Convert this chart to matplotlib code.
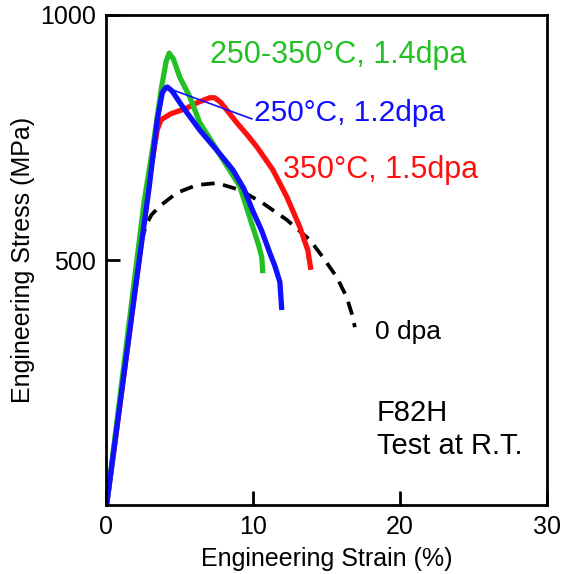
import numpy as np
import matplotlib
matplotlib.use('Agg')
import matplotlib.pyplot as plt

plt.rcParams['font.family'] = ['Liberation Sans', 'DejaVu Sans']

# engineering stress-strain curves (strain %, stress MPa)
green_x = [0.05, 2.61, 3.29, 3.76, 4.1, 4.31, 4.6, 5.03, 5.71, 6.39, 7.07, 7.96, 9.12, 10.0, 10.4, 10.61, 10.68]
green_y = [0, 620, 748, 847, 905, 922, 910, 873, 833, 780, 748, 705, 650, 567, 530, 505, 473]

blue_x = [0.05, 1.9, 2.95, 3.5, 3.84, 4.05, 4.18, 4.5, 5.24, 6.39, 7.55, 8.64, 9.4, 10.0, 10.6, 11.16, 11.5, 11.84, 11.97]
blue_y = [0, 418, 649, 786, 841, 851, 853, 845, 812, 765, 724, 684, 645, 600, 560, 514, 488, 455, 398]

red_x = [0.05, 1.9, 3.05, 3.5, 3.75, 4.4, 5.51, 6.3, 7.07, 7.41, 7.8, 8.23, 8.91, 9.6, 10.27, 11.36, 12.31, 13.2, 13.74, 13.95]
red_y = [0, 418, 684, 766, 786, 798, 810, 822, 831, 831, 822, 806, 780, 756, 731, 684, 629, 567, 520, 480]

black_x = [0.05, 1.9, 2.5, 2.79, 3.1, 3.67, 4.83, 6.19, 7.55, 9.12, 10.68, 12.31, 13.88, 14.76, 15.71, 16.39, 16.8, 16.94]
black_y = [0, 418, 548, 574, 592, 610, 637, 653, 657, 643, 616, 582, 541, 506, 465, 424, 384, 363]

labels = ['250-350°C, 1.4dpa', '250°C, 1.2dpa', '350°C, 1.5dpa', '0 dpa']

fig = plt.figure(figsize=(5.69, 5.74), dpi=100)
ax = fig.add_axes([0.186, 0.120, 0.775, 0.854])

ax.plot(black_x, black_y, color='black', lw=2.7, ls=(0, (3.6, 2.3)))
ax.plot(red_x, red_y, color='#ff1010', lw=3.8, solid_capstyle='butt', solid_joinstyle='round')
ax.plot(green_x, green_y, color='#22c022', lw=3.8, solid_capstyle='butt', solid_joinstyle='round')
ax.plot(blue_x, blue_y, color='#1010ff', lw=3.8, solid_capstyle='butt', solid_joinstyle='round')

# leader line for the blue label
ax.plot([4.18, 9.93], [851, 788], color='#1010ff', lw=1.2)

ax.text(7.07, 918, labels[0], color='#22c022', fontsize=22, va='center')
ax.text(10.1, 800, labels[1], color='#1010ff', fontsize=21.5, va='center')
ax.text(12.04, 684, labels[2], color='#ff1010', fontsize=22, va='center')
ax.text(18.3, 353, labels[3], color='black', fontsize=19, va='center')
ax.text(18.43, 188, 'F82H', color='black', fontsize=21, va='center')
ax.text(18.43, 120, 'Test at R.T.', color='black', fontsize=21, va='center')

ax.set_xlim(0, 30)
ax.set_ylim(0, 1000)
ax.set_xticks([0, 10, 20, 30])
ax.set_yticks([500, 1000])
ax.tick_params(direction='in', length=10, width=2, labelsize=18, pad=7)
for s in ax.spines.values():
    s.set_linewidth(2)
ax.set_xlabel('Engineering Strain (%)', fontsize=18, labelpad=6)
ax.set_ylabel('Engineering Stress (MPa)', fontsize=18, labelpad=4)

fig.savefig('out.png', dpi=100)
